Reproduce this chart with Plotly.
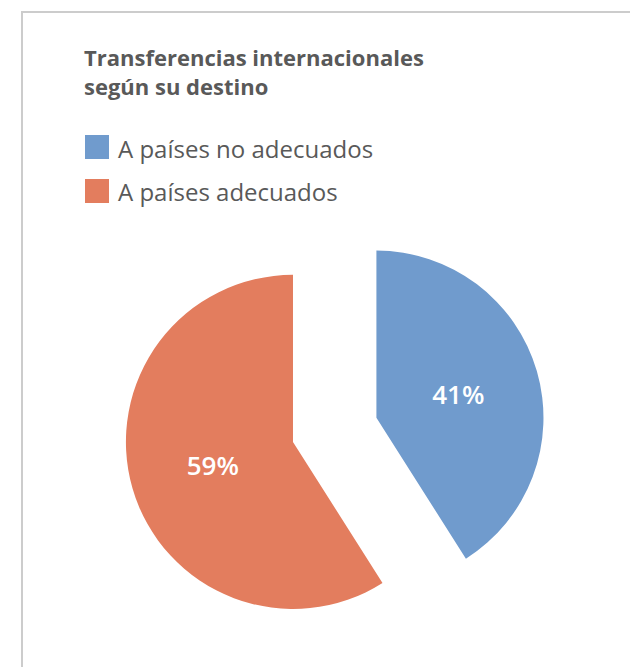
import plotly.graph_objects as go

# Data
destinos = ["A países no adecuados", "A países adecuados"]
porcentajes = [41, 59]
colores = ["#709BCD", "#E37D5E"]

W, H = 630, 667
FONT = "Open Sans"
GRIS = "#595959"


def px_x(x):
    return x / W


def px_y(y):
    return 1 - y / H


fig = go.Figure()

fig.add_trace(
    go.Pie(
        labels=destinos,
        values=porcentajes,
        marker=dict(colors=colores, line=dict(width=0)),
        sort=False,
        direction="clockwise",
        rotation=0,
        pull=[0.26, 0.26],
        texttemplate="%{percent:.0%}",
        textposition="inside",
        insidetextorientation="horizontal",
        textfont=dict(family=FONT, size=26, color="white", weight=600),
        domain=dict(x=[px_x(124.2), px_x(545.2)], y=[px_y(640.3), px_y(219.3)]),
        showlegend=False,
        hoverinfo="label+percent",
    )
)

# Custom legend (large square swatches)
legend_rows = [147, 191]
for nombre, color, yc in zip(destinos, colores, legend_rows):
    fig.add_shape(
        type="rect", xref="paper", yref="paper",
        x0=px_x(85), x1=px_x(109),
        y0=px_y(yc + 12), y1=px_y(yc - 12),
        fillcolor=color, line=dict(width=0),
    )
    fig.add_annotation(
        text=nombre, xref="paper", yref="paper",
        x=px_x(116), y=px_y(yc + 1), xanchor="left", yanchor="middle",
        showarrow=False,
        font=dict(family=FONT, size=24, color=GRIS),
    )

# Light grey frame (open to the right and bottom)
fig.add_shape(
    type="path", xref="paper", yref="paper",
    path=f"M 1.2,{px_y(12)} L {px_x(22)},{px_y(12)} L {px_x(22)},-0.2",
    line=dict(color="#CCCCCC", width=2),
)

fig.update_layout(
    width=W,
    height=H,
    margin=dict(l=0, r=0, t=0, b=0),
    paper_bgcolor="white",
    plot_bgcolor="white",
    title=dict(
        text="<b>Transferencias internacionales<br>según su destino</b>",
        x=px_x(84), xanchor="left", xref="paper",
        y=px_y(66), yanchor="top", yref="container",
        font=dict(family=FONT, size=22, color=GRIS),
    ),
)

# drop the default page margin so the figure fills the window exactly
fig.write_html(
    "out.html",
    config={"displayModeBar": False},
    post_script="document.body.style.margin='0';document.body.style.overflow='hidden';",
)
